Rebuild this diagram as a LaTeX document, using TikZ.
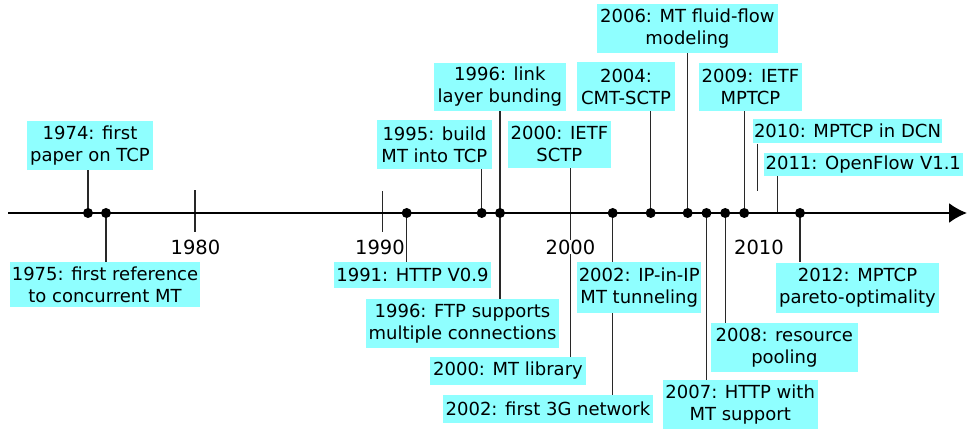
\documentclass[tikz,border=0pt]{standalone}
\usepackage{fontspec}
\setmainfont{DejaVu Sans}
\usetikzlibrary{arrows.meta}
\definecolor{boxcyan}{RGB}{143,255,255}
\definecolor{stemgray}{RGB}{40,40,40}
\pgfdeclarelayer{bg}
\pgfsetlayers{bg,main}
\begin{document}
\begin{tikzpicture}[x=1pt,y=-1pt,
  evt/.style={fill=boxcyan, inner sep=0pt, align=center,
    font=\fontsize{18}{22}\selectfont},
  yearlbl/.style={fill=white, inner sep=0pt, font=\fontsize{19.5}{23}\selectfont},
  evdot/.style={circle, fill=black, inner sep=0pt, minimum size=10pt},
  stem/.style={draw=stemgray, line width=1.2pt},
  axisline/.style={draw=black, line width=2pt, -{Latex[length=18pt,width=20pt]}}
]
\useasboundingbox (0,0) rectangle (967,430);

% axis anchor points
\coordinate (axstart) at (8,213);
\coordinate (axend) at (967,213);
\coordinate (t1980) at (195,213);
\coordinate (t1990) at (382.7,213);
\coordinate (t2000) at (570.5,213);
\coordinate (t2010) at (757.7,213);
\coordinate (c2011) at (777.7,213);

% event boxes
\node[evt, minimum width=126pt, minimum height=49pt] (b1974) at (90,145.5) {1974: first\\paper on TCP};
\node[evt, minimum width=190pt, minimum height=45pt] (b1975) at (105,284.5) {1975: first reference\\to concurrent MT};
\node[evt, minimum width=157pt, minimum height=26.5pt] (b1991) at (412.5,275.2) {1991: HTTP V0.9};
\node[evt, minimum width=114.7pt, minimum height=49pt] (b1995) at (434.4,144.5) {1995: build\\MT into TCP};
\node[evt, minimum width=131.7pt, minimum height=48pt] (b1996a) at (499.9,87) {1996: link\\layer bunding};
\node[evt, minimum width=193pt, minimum height=48.7pt] (b1996b) at (462.5,323.4) {1996: FTP supports\\multiple connections};
\node[evt, minimum width=102.7pt, minimum height=46.7pt] (b2000a) at (559.4,144.4) {2000: IETF\\SCTP};
\node[evt, minimum width=156pt, minimum height=28.3pt] (b2000b) at (508,370.9) {2000: MT library};
\node[evt, minimum width=123.7pt, minimum height=50.7pt] (b2002a) at (639.2,287.4) {2002: IP-in-IP\\MT tunneling};
\node[evt, minimum width=210pt, minimum height=27.7pt] (b2002b) at (548,408.9) {2002: first 3G network};
\node[evt, minimum width=98pt, minimum height=49pt] (b2004) at (626,86.5) {2004:\\CMT-SCTP};
\node[evt, minimum width=180.7pt, minimum height=48.7pt] (b2006) at (687.4,28.4) {2006: MT fluid-flow\\modeling};
\node[evt, minimum width=155pt, minimum height=49.3pt] (b2007) at (740.2,404.7) {2007: HTTP with\\MT support};
\node[evt, minimum width=146.7pt, minimum height=48.4pt] (b2008) at (784.4,347.5) {2008: resource\\pooling};
\node[evt, minimum width=102.7pt, minimum height=47.7pt] (b2009) at (750.4,86.9) {2009: IETF\\MPTCP};
\node[evt, minimum width=189.6pt, minimum height=24.3pt] (b2010) at (847.5,131.2) {2010: MPTCP in DCN};
\node[evt, minimum width=198.5pt, minimum height=23pt] (b2011) at (863.3,164.5) {2011: OpenFlow V1.1};
\node[evt, minimum width=163pt, minimum height=50.6pt] (b2012) at (857.5,288) {2012: MPTCP\\pareto-optimality};

% event dots
\node[evdot] (d1974) at (88,213) {};
\node[evdot] (d1975) at (106,213) {};
\node[evdot] (d1991) at (406.7,213) {};
\node[evdot] (d1995) at (481.7,213) {};
\node[evdot] (d1996) at (500,213) {};
\node[evdot] (d2002) at (612.7,213) {};
\node[evdot] (d2004) at (650.7,213) {};
\node[evdot] (d2006) at (687.7,213) {};
\node[evdot] (d2007) at (706.5,213) {};
\node[evdot] (d2008) at (725.2,213) {};
\node[evdot] (d2009) at (744.2,213) {};
\node[evdot] (d2012) at (800,213) {};

% year labels
\node[yearlbl] (y1980) at (195.5,247) {1980};
\node[yearlbl] (y1990) at (380,247) {1990};
\node[yearlbl] (y2000) at (570.5,247) {2000};
\node[yearlbl] (y2010) at (759,247) {2010};

\begin{pgfonlayer}{bg}
  % ticks
  \draw[stem] ([yshift=-19pt]t1980) -- ([yshift=22.5pt]t1980);
  \draw[stem] ([yshift=-19pt]t1990) -- ([yshift=22pt]t1990);
  % stems
  \draw[stem] (d1974.center) -- (d1974.center |- b1974.south);
  \draw[stem] (d1975.center) -- (d1975.center |- b1975.north);
  \draw[stem] (d1991.center) -- (d1991.center |- b1991.north);
  \draw[stem] (d1995.center) -- (d1995.center |- b1995.south);
  \draw[stem] (d1996.center |- b1996a.south) -- (d1996.center |- b1996b.north);
  \draw[stem] (t2000 |- b2000a.south) -- (t2000 |- b2000b.north);
  \draw[stem] (d2002.center) -- (d2002.center |- b2002b.north);
  \draw[stem] (d2004.center) -- (d2004.center |- b2004.south);
  \draw[stem] (d2006.center) -- (d2006.center |- b2006.south);
  \draw[stem] (d2007.center) -- (d2007.center |- b2007.north);
  \draw[stem] (d2008.center) -- (d2008.center |- b2008.north);
  \draw[stem] (d2009.center) -- (d2009.center |- b2009.south);
  \draw[stem] (t2010 |- b2010.south) -- ([yshift=22pt]t2010);
  \draw[stem] (c2011) -- (c2011 |- b2011.south);
  \draw[stem] (d2012.center) -- (d2012.center |- b2012.north);
  % axis
  \draw[axisline] (axstart) -- (axend);
\end{pgfonlayer}
\end{tikzpicture}
\end{document}
